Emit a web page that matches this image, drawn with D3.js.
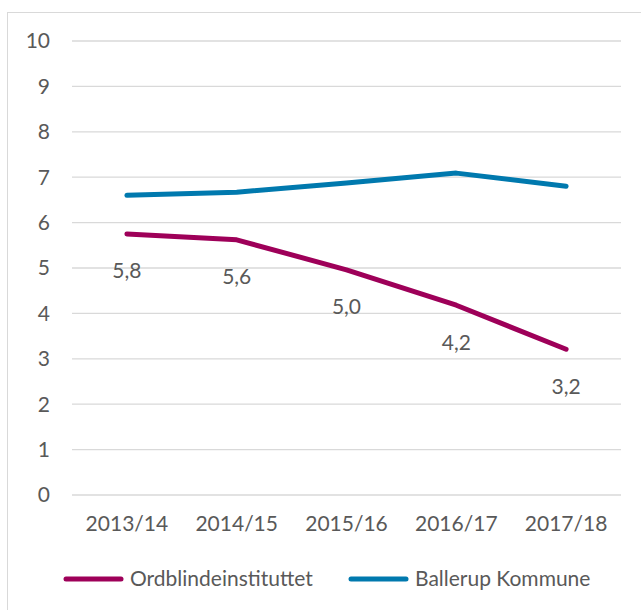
<!DOCTYPE html>
<html>
<head>
<meta charset="utf-8">
<script src="https://cdn.jsdelivr.net/npm/d3@7"></script>
<style>
  body { margin: 0; background: #fff; }
  text { font-family: Lato, "Open Sans", sans-serif; fill: #595959; font-size: 21px; }
</style>
</head>
<body>
<script>
var width = 641,
    height = 610;

var years = ["2013/14", "2014/15", "2015/16", "2016/17", "2017/18"];
var ordblinde = [5.75, 5.62, 4.96, 4.18, 3.21];
var ordblindeLabels = ["5,8", "5,6", "5,0", "4,2", "3,2"];
var ballerup = [6.60, 6.67, 6.87, 7.09, 6.80];
var yTicks = [0, 1, 2, 3, 4, 5, 6, 7, 8, 9, 10];

var series = [
    {name: "Ordblindeinstituttet", values: ordblinde, color: "#9e0059"},
    {name: "Ballerup Kommune", values: ballerup, color: "#0079ae"}
];

var svg = d3.select("body").append("svg")
    .attr("width", width)
    .attr("height", height);

// chart frame
svg.append("rect")
    .attr("x", 7.5).attr("y", 12.5)
    .attr("width", 660).attr("height", 620)
    .attr("fill", "none")
    .attr("stroke", "#d9d9d9");

var x = d3.scaleBand()
    .domain(years)
    .range([72, 621]);

var y = d3.scaleLinear()
    .domain([0, 10])
    .range([495, 41]);

// gridlines
svg.append("g")
    .selectAll("line")
    .data(yTicks)
    .enter().append("line")
    .attr("x1", 72).attr("x2", 621)
    .attr("y1", function(d) { return y(d); })
    .attr("y2", function(d) { return y(d); })
    .attr("stroke", "#d9d9d9")
    .attr("stroke-width", 1.3);

// y tick labels
svg.append("g")
    .selectAll("text")
    .data(yTicks)
    .enter().append("text")
    .attr("x", 50)
    .attr("y", function(d) { return y(d); })
    .attr("dy", "0.35em")
    .attr("text-anchor", "end")
    .text(function(d) { return d; });

// x tick labels
svg.append("g")
    .selectAll("text")
    .data(years)
    .enter().append("text")
    .attr("x", function(d) { return x(d) + x.bandwidth() / 2; })
    .attr("y", 524)
    .attr("dy", "0.35em")
    .attr("text-anchor", "middle")
    .text(function(d) { return d; });

var line = d3.line()
    .x(function(d, i) { return x(years[i]) + x.bandwidth() / 2; })
    .y(function(d) { return y(d); });

svg.append("g")
    .selectAll("path")
    .data(series)
    .enter().append("path")
    .attr("d", function(d) { return line(d.values); })
    .attr("fill", "none")
    .attr("stroke", function(d) { return d.color; })
    .attr("stroke-width", 5)
    .attr("stroke-linejoin", "round")
    .attr("stroke-linecap", "round");

// data labels under Ordblindeinstituttet
svg.append("g")
    .selectAll("text")
    .data(ordblinde)
    .enter().append("text")
    .attr("x", function(d, i) { return x(years[i]) + x.bandwidth() / 2; })
    .attr("y", function(d) { return y(d) + 37; })
    .attr("dy", "0.35em")
    .attr("text-anchor", "middle")
    .text(function(d, i) { return ordblindeLabels[i]; });

// legend
var legendX = [66, 351];
var legend = svg.append("g")
    .selectAll("g")
    .data(series)
    .enter().append("g")
    .attr("transform", function(d, i) { return "translate(" + legendX[i] + ",579)"; });

legend.append("line")
    .attr("x1", 0).attr("x2", 55)
    .attr("stroke", function(d) { return d.color; })
    .attr("stroke-width", 5)
    .attr("stroke-linecap", "round");

legend.append("text")
    .attr("x", 64)
    .attr("dy", "0.35em")
    .text(function(d) { return d.name; });
</script>
</body>
</html>
